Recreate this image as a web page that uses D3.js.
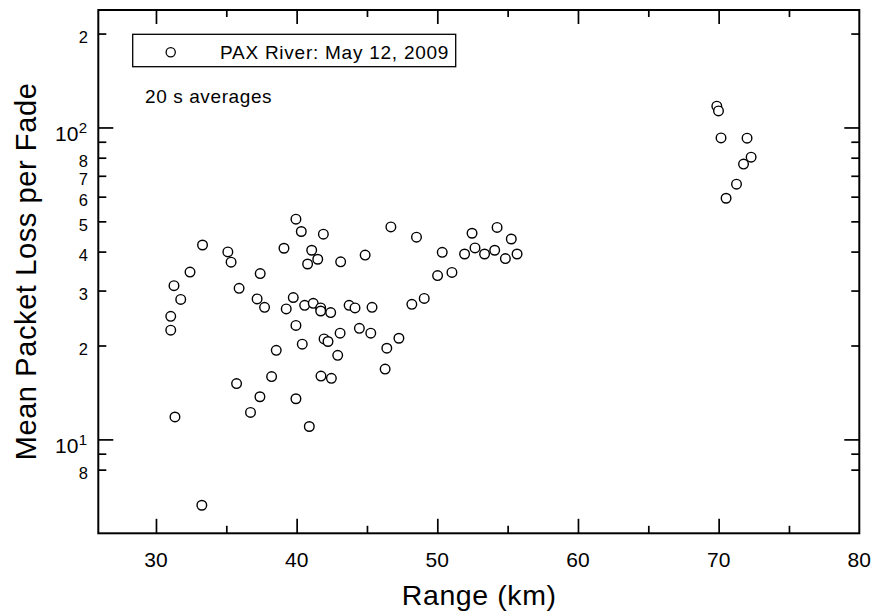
<!DOCTYPE html>
<html><head><meta charset="utf-8">
<script src="https://cdn.jsdelivr.net/npm/d3@7"></script>
<style>
body{margin:0;background:#fff;}
text{font-family:"Liberation Sans",Arial,Helvetica,sans-serif;fill:#000;}
</style></head>
<body><svg id="chart" width="876" height="615"></svg>
<script>
const rangeKm = [39.95,40.33,41.90,33.31,35.11,39.10,41.07,41.50,40.78,43.13,
  44.87,35.34,32.42,37.41,31.28,35.91,31.76,37.19,39.76,37.72,
  39.26,40.57,41.18,41.71,41.71,42.42,43.73,44.15,45.36,31.05,
  31.05,39.95,40.40,44.46,45.27,43.09,41.95,42.23,38.55,42.92,
  38.22,41.73,42.47,35.73,37.39,39.95,31.35,36.72,40.90,33.26,
  46.70,48.52,50.35,52.47,54.25,55.26,51.94,52.68,53.36,54.08,
  54.84,55.67,50.02,51.04,48.19,49.07,47.27,46.41,46.29,
  69.87,69.99,70.17,72.02,72.31,71.77,71.27,70.53];
const packetLoss = [50.8,46.4,45.5,42.0,39.9,41.0,40.4,37.8,36.5,37.1,
  39.0,37.0,34.4,34.0,31.1,30.5,28.1,28.2,28.5,26.5,
  26.2,26.9,27.3,26.4,25.8,25.5,26.9,26.4,26.5,24.8,
  22.4,23.2,20.2,22.7,21.9,21.9,21.0,20.6,19.3,18.6,
  15.9,15.96,15.7,15.1,13.7,13.5,11.8,12.2,11.0,6.15,
  48.0,44.5,39.8,45.8,47.8,43.9,39.3,41.1,39.3,40.4,
  38.0,39.3,33.5,34.3,27.1,28.3,21.1,19.6,16.8,
  117,113,92.6,92.4,80.3,76.3,65.8,59.3];

const xMajorTicks = [30,40,50,60,70,80];
const xMinorTicks = [35,45,55,65,75];
const yMajorTicks = [10,100];
const yMinorTicks = [8,9,20,30,40,50,60,70,80,90,200];
const yMinorLabels = {8:"8",20:"2",30:"3",40:"4",50:"5",60:"6",70:"7",80:"8",200:"2"};
const yMajorExp = {10:"1",100:"2"};

const legendLabel = "PAX River: May 12, 2009";
const noteLabel = "20 s averages";
const xTitle = "Range (km)";
const yTitle = "Mean Packet Loss per Fade";

const L=98.3, R=859.3, T=10, B=533.3;
const svg = d3.select("#chart");
const x = d3.scaleLinear().domain([25.9,80]).range([L,R]);
const y = d3.scaleLog().domain([5,238]).range([B,T]);

function drawAxis(gen, transform, values, len){
  const g = svg.append("g").attr("transform", transform)
    .call(gen.tickValues(values).tickSize(len).tickFormat(""));
  g.select(".domain").remove();
  g.selectAll(".tick line").attr("stroke","#000").attr("stroke-width",1.7);
  return g;
}
drawAxis(d3.axisTop(x), `translate(0,${B})`, xMajorTicks.filter(v=>v<80), 14.5);
drawAxis(d3.axisTop(x), `translate(0,${B})`, xMinorTicks, 7.5);
drawAxis(d3.axisBottom(x), `translate(0,${T})`, xMajorTicks.filter(v=>v<80), 14);
drawAxis(d3.axisBottom(x), `translate(0,${T})`, xMinorTicks, 7);
drawAxis(d3.axisRight(y), `translate(${L},0)`, yMajorTicks, 15);
drawAxis(d3.axisRight(y), `translate(${L},0)`, yMinorTicks, 8);
drawAxis(d3.axisLeft(y), `translate(${R},0)`, yMajorTicks, 15);
drawAxis(d3.axisLeft(y), `translate(${R},0)`, yMinorTicks, 8);

svg.append("rect").attr("x",L).attr("y",T).attr("width",R-L).attr("height",B-T)
  .attr("fill","none").attr("stroke","#000").attr("stroke-width",2);

svg.append("g").selectAll("text").data(xMajorTicks).join("text")
  .attr("x",d=>x(d)).attr("y",B+34).attr("text-anchor","middle")
  .style("font-size","21px").text(d=>d);

svg.append("g").selectAll("text").data(yMinorTicks.filter(d=>yMinorLabels[d])).join("text")
  .attr("x",88).attr("y",d=>y(d)+9.5).attr("text-anchor","end")
  .style("font-size","16.5px").text(d=>yMinorLabels[d]);

yMajorTicks.forEach(v=>{
  const t = svg.append("text").attr("x",55).attr("y",y(v)+13.5).style("font-size","21px");
  t.append("tspan").text("10");
  t.append("tspan").attr("dy",-7.7).attr("dx",0.5).style("font-size","15px").text(yMajorExp[v]);
});

svg.append("g").selectAll("circle").data(rangeKm.map((d,i)=>[d,packetLoss[i]])).join("circle")
  .attr("cx",d=>x(d[0])).attr("cy",d=>y(d[1])).attr("r",4.8)
  .attr("fill","#fff").attr("stroke","#000").attr("stroke-width",1.4);

svg.append("rect").attr("x",132.7).attr("y",34.3).attr("width",323).attr("height",32.4)
  .attr("fill","#fff").attr("stroke","#000").attr("stroke-width",1.3);
svg.append("circle").attr("cx",170.7).attr("cy",52.2).attr("r",4.6)
  .attr("fill","#fff").attr("stroke","#000").attr("stroke-width",1.3);
svg.append("text").attr("x",220).attr("y",59.3).style("font-size","19px")
  .style("letter-spacing","0.75px").text(legendLabel);
svg.append("text").attr("x",145).attr("y",102.7).style("font-size","19px")
  .style("letter-spacing","0.6px").text(noteLabel);

svg.append("text").attr("x",(401.7+556.7)/2).attr("y",605).attr("text-anchor","middle")
  .style("font-size","28.5px").style("letter-spacing","0.6px").text(xTitle);
svg.append("text").attr("transform","translate(35.7,271.5) rotate(-90)").attr("text-anchor","middle")
  .style("font-size","29px").style("letter-spacing","0.6px").text(yTitle);
</script></body></html>
